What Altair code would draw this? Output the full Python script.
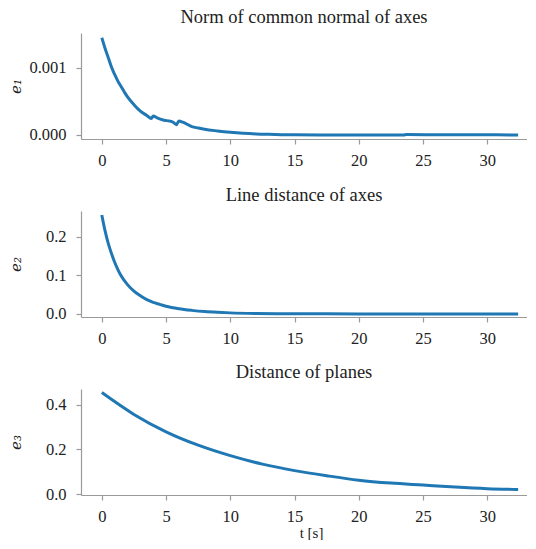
import altair as alt
import pandas as pd

# ---- data ----
t1 = [0, 0.25, 0.5, 0.75, 1.0, 1.25, 1.5, 1.75, 2.0, 2.5, 3.0, 3.5, 3.85, 4.0, 4.3,
      4.85, 5.25, 5.55, 5.8, 6.0, 6.3, 7.0, 7.5, 8.0, 9.0, 10, 11, 12, 13, 14, 15,
      17, 20, 23.5, 23.7, 26, 29, 32.4]
e1 = [1.446e-3, 1.29e-3, 1.15e-3, 1.01e-3, 0.90e-3, 0.80e-3, 0.72e-3, 0.64e-3,
      0.565e-3, 0.45e-3, 0.355e-3, 0.29e-3, 0.245e-3, 0.282e-3, 0.255e-3,
      0.218e-3, 0.208e-3, 0.19e-3, 0.153e-3, 0.208e-3, 0.19e-3, 0.125e-3,
      0.104e-3, 0.085e-3, 0.06e-3, 0.04e-3, 0.025e-3, 0.015e-3, 0.009e-3,
      0.005e-3, 0.003e-3, 0.001e-3, 0.0, 0.0, 0.006e-3, 0.004e-3, 0.002e-3, 0.001e-3]

t2 = [0, 0.25, 0.5, 0.75, 1.0, 1.25, 1.5, 2.0, 2.5, 3.0, 3.5, 4.0, 4.5, 5.0, 6.0,
      7.0, 8.0, 9.0, 10, 12, 15, 20, 25, 32.4]
e2 = [0.2565, 0.216, 0.183, 0.157, 0.134, 0.115, 0.099, 0.076, 0.059, 0.047,
      0.037, 0.030, 0.025, 0.020, 0.0135, 0.0093, 0.0062, 0.0042, 0.0028, 0.0013,
      0.0005, 0.0002, 0.0001, 0.0]

t3 = [0, 2.5, 5, 7.5, 10, 12.5, 15, 17.5, 20, 22.5, 25, 27.5, 30, 32.4]
e3 = [0.455, 0.357, 0.279, 0.219, 0.172, 0.134, 0.105, 0.082, 0.062, 0.049,
      0.040, 0.031, 0.024, 0.020]

titles = ["Norm of common normal of axes", "Line distance of axes", "Distance of planes"]
ytitles = ["e\u2081", "e\u2082", "e\u2083"]
ydomains = [[-0.00006, 0.001516], [-0.0079, 0.267], [-0.0044, 0.471]]
yticks = [[0, 0.001], [0, 0.1, 0.2], [0, 0.2, 0.4]]
yformats = [".3f", ".1f", ".1f"]
x_ticks = [0, 5, 10, 15, 20, 25, 30]
x_domain = [-1.62, 33.09]
x_label = "t [s]"

FONT = "Liberation Serif"
LINE = "#1f77b4"
AXC = "#9a9a9a"
W, H = 446, 106


def panel(t, e, title, ytitle, ydom, yt, yfmt, last):
    df = pd.DataFrame({"t": t, "e": e})
    xaxis = dict(values=x_ticks, format="d", labelPadding=8)
    if last:
        xaxis.update(title=x_label, titleX=(W + 14) / 2, titleY=37, titleAlign="center",
                     titleBaseline="middle", titleFontSize=15)
    else:
        xaxis.update(title="")
    return (
        alt.Chart(df, title=alt.TitleParams(title))
        .mark_line(color=LINE, strokeWidth=3, interpolate="monotone")
        .encode(
            x=alt.X("t:Q", scale=alt.Scale(domain=x_domain, nice=False, zero=False),
                    axis=alt.Axis(**xaxis)),
            y=alt.Y("e:Q", scale=alt.Scale(domain=ydom, nice=False, zero=False),
                    axis=alt.Axis(values=yt, format=yfmt, title=ytitle, labelPadding=10,
                                  titleX=-66, titleY=H / 2, titleAngle=270,
                                  titleAlign="center", titleBaseline="middle",
                                  titleFont="DejaVu Serif",
                                  titleFontStyle="italic", titleFontSize=15)),
        )
        .properties(width=W, height=H)
    )


charts = [
    panel(t1, e1, titles[0], ytitles[0], ydomains[0], yticks[0], yformats[0], False),
    panel(t2, e2, titles[1], ytitles[1], ydomains[1], yticks[1], yformats[1], False),
    panel(t3, e3, titles[2], ytitles[2], ydomains[2], yticks[2], yformats[2], True),
]

chart = (
    alt.vconcat(*charts, spacing=72, bounds="flush")
    .properties(padding={"left": 0, "top": 0, "right": 0, "bottom": 0})
    .configure_view(strokeWidth=0)
    .configure_axis(
        grid=False, domainColor=AXC, tickColor=AXC, domainWidth=1.2, tickWidth=1.2,
        tickSize=5, labelFont=FONT, labelFontSize=16.5, labelColor="#222",
        titleFont=FONT, titleFontWeight="normal", titleColor="#222",
    )
    .configure_title(font=FONT, fontSize=18.5, fontWeight="normal", color="#222",
                     anchor="middle", baseline="middle", offset=5, frame="group")
)

chart.save("out.html", embed_options={"renderer": "svg", "actions": False})
